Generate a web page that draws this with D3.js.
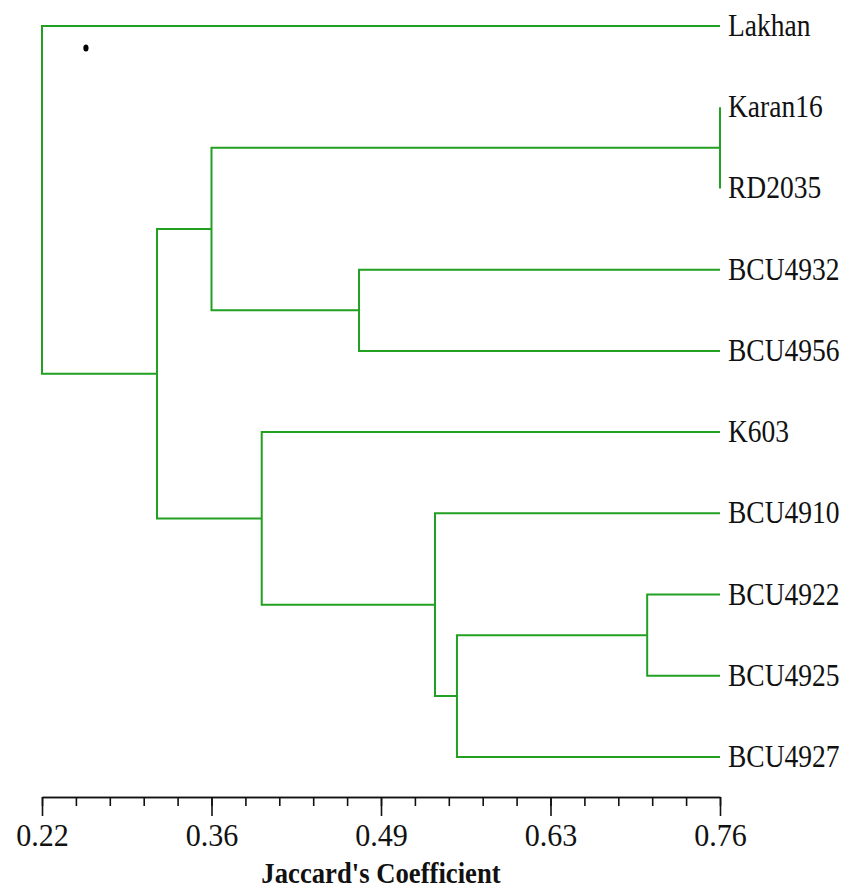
<!DOCTYPE html>
<html>
<head>
<meta charset="utf-8">
<script src="https://cdn.jsdelivr.net/npm/d3@7"></script>
<style>
  body { margin: 0; background: #fff; }
  svg text { font-family: "Liberation Serif", "Times New Roman", Times, "DejaVu Serif", serif; fill: #111; }
</style>
</head>
<body>
<div id="chart"></div>
<script>
// leaf order top to bottom
var leaves = ["Lakhan", "Karan16", "RD2035", "BCU4932", "BCU4956", "K603", "BCU4910", "BCU4922", "BCU4925", "BCU4927"]

// merges like a linkage table: [top child, bottom child, coefficient]
// ids 0..9 are leaves, 10+ are earlier merges in this list
var mergeLeft  = [1, 7, 3, 11, 6, 5, 10, 16, 0]
var mergeRight = [2, 8, 4, 9, 13, 14, 12, 15, 17]
var mergeValue = [0.76, 0.702, 0.4725, 0.5505, 0.533, 0.395, 0.355, 0.3116, 0.22]

var majorTicks = [0.22, 0.355, 0.49, 0.625, 0.76]
var tickLabels = ["0.22", "0.36", "0.49", "0.63", "0.76"]
var minorStep = 0.027
var x_label = "Jaccard's Coefficient"

var width = 850, height = 890
var green = "#22a022"
var serif = "'Liberation Serif', 'Times New Roman', Times, serif"

var svg = d3.select("#chart").append("svg")
    .attr("width", width)
    .attr("height", height)

var xScale = d3.scaleLinear()
    .domain([0.22, 0.76])
    .range([42, 720])

var yScale = d3.scalePoint()
    .domain(leaves)
    .range([26, 757])

// position of every node: leaves first, then merges
var nodeX = [], nodeY = []
leaves.forEach(function(d) {
  nodeX.push(xScale(0.76))
  nodeY.push(yScale(d))
})
mergeValue.forEach(function(v, i) {
  nodeX.push(xScale(v))
  nodeY.push((nodeY[mergeLeft[i]] + nodeY[mergeRight[i]]) / 2)
})

var g = svg.append("g")

var elbow = function(d, i) {
  var a = mergeLeft[i], b = mergeRight[i]
  var xm = xScale(d)
  return "M" + nodeX[a] + "," + nodeY[a] +
         "H" + xm + "V" + nodeY[b] + "H" + nodeX[b]
}

g.selectAll(".link")
  .data(mergeValue)
  .enter()
  .append("path")
    .attr("class", "link")
    .attr("d", elbow)
    .attr("fill", "none")
    .attr("stroke", green)
    .attr("stroke-width", 2)

// leaf labels (source font looks tall and narrow)
g.selectAll(".leaf")
  .data(leaves)
  .enter()
  .append("text")
    .attr("class", "leaf")
    .attr("font-family", serif)
    .attr("transform", function(d) {
      return "translate(" + (xScale(0.76) + 8) + "," + (yScale(d) + 10) + ")scale(0.86,1)"
    })
    .style("font-size", "32px")
    .text(function(d) { return d; })

// small black dot near the top left
g.append("ellipse")
  .attr("cx", xScale(0.255))
  .attr("cy", yScale("Lakhan") + 22)
  .attr("rx", 2.6)
  .attr("ry", 3.6)
  .attr("fill", "#000")

// axis: minor ticks then major ticks with labels
var axis_y = 797
var minorTicks = d3.range(21).map(function(i) { return 0.22 + i * minorStep; })

var minorAxis = g.append("g")
    .attr("transform", "translate(0," + axis_y + ")")
    .call(d3.axisBottom(xScale).tickValues(minorTicks).tickSize(9).tickSizeOuter(0).tickFormat(""))

var majorAxis = g.append("g")
    .attr("transform", "translate(0," + axis_y + ")")
    .call(d3.axisBottom(xScale).tickValues(majorTicks).tickSize(19).tickSizeOuter(0)
      .tickFormat(function(d, i) { return tickLabels[i]; }))

g.selectAll(".domain").attr("stroke", "#111").attr("stroke-width", 1.6)
g.selectAll(".tick line").attr("stroke", "#111").attr("stroke-width", 1.6)

majorAxis.attr("font-family", serif)
majorAxis.selectAll("text")
    .attr("y", 0)
    .attr("dy", 0)
    .attr("fill", "#111")
    .attr("font-family", serif)
    .attr("transform", "translate(0,49)scale(0.94,1)")
    .style("font-size", "32px")

g.append("text")
  .attr("text-anchor", "middle")
  .attr("font-family", serif)
  .attr("transform", "translate(" + (xScale(0.22) + xScale(0.76)) / 2 + ",883)scale(0.92,1)")
  .style("font-size", "29px")
  .style("font-weight", "bold")
  .text(x_label)
</script>
</body>
</html>
